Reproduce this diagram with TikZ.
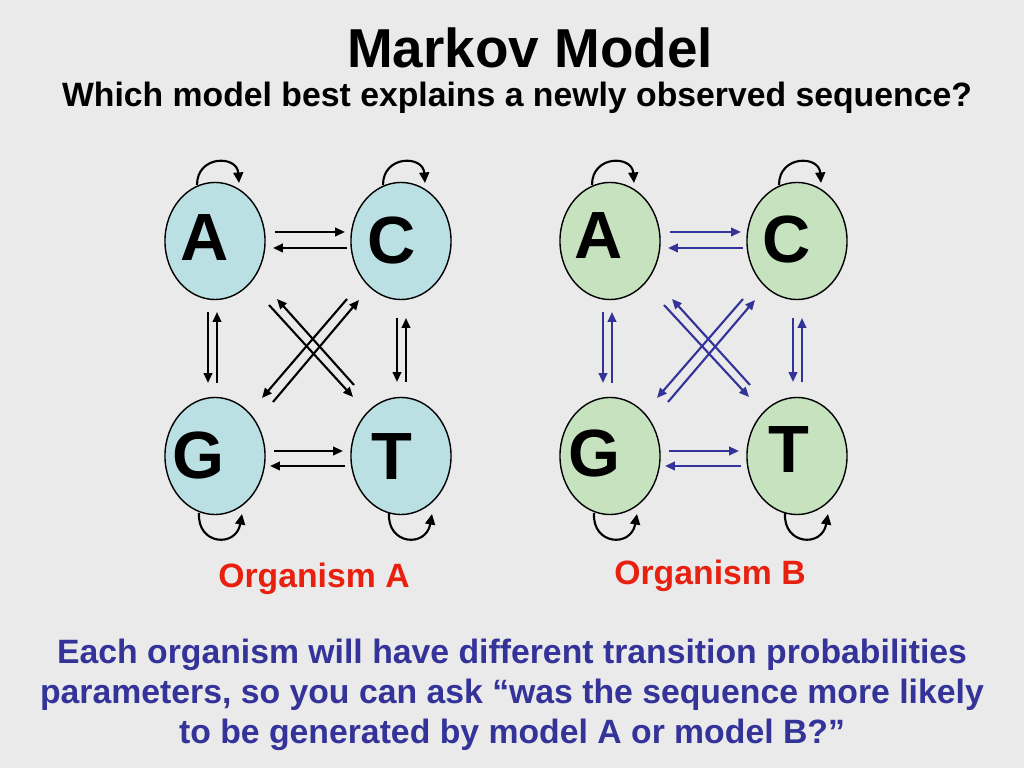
\documentclass[tikz,border=0pt]{standalone}
\usepackage{fontspec}
\setmainfont{Liberation Sans}
\usepackage{xcolor}
\usepackage{tikz}
\usetikzlibrary{shapes.geometric,arrows.meta,calc}
\definecolor{slidebg}{RGB}{234,234,234}
\definecolor{cyanfill}{RGB}{187,224,227}
\definecolor{greenfill}{RGB}{199,226,191}
\definecolor{navy}{RGB}{51,51,153}
\definecolor{orgred}{RGB}{232,32,16}
\tikzset{
  state/.style={
    shape = ellipse,
    draw,
    line width = 0.4pt,
    inner sep = 0pt,
    minimum width = 1cm,
    minimum height = 1.17cm
  },
  letter/.style={
    font = \fontsize{19}{20}\selectfont\bfseries,
    inner sep = 0pt
  },
  trans/.style={
    line width = 0.6pt,
    -{Triangle[length=2.8pt,width=2.4pt]}
  },
  selfloop/.style={
    line width = 0.6pt,
    -{Triangle[length=3pt,width=2.8pt]}
  },
  heading/.style={
    font = \fontsize{9.6}{11.4}\selectfont\bfseries,
    anchor = base
  }
}

\begin{document}
\begin{tikzpicture}[x=0.01cm,y=-0.01cm]
  \fill[slidebg] (0,0) rectangle (1024,768);
  \useasboundingbox (0,0) rectangle (1024,768);
  \node[heading,font=\fontsize{15.6}{18}\selectfont\bfseries] (title) at (530,68) {Markov Model};
  \node[heading] (subtitle) at (517,107) {Which model best explains a newly observed sequence?};
  % organism A
  \node[state,fill=cyanfill] (A1) at (215,241) {};
  \node[state,fill=cyanfill] (C1) at (401,241) {};
  \node[state,fill=cyanfill] (G1) at (215,456) {};
  \node[state,fill=cyanfill] (T1) at (401,456) {};
  \node[letter] (A1t) at (205,238) {A};
  \node[letter] (C1t) at (392,241) {C};
  \node[letter] (G1t) at (198,456) {G};
  \node[letter] (T1t) at (392,457) {T};
  % organism B
  \node[state,fill=greenfill] (A2) at (610,241) {};
  \node[state,fill=greenfill] (C2) at (797,241) {};
  \node[state,fill=greenfill] (G2) at (610,456) {};
  \node[state,fill=greenfill] (T2) at (797,456) {};
  \node[letter] (A2t) at (599,236) {A};
  \node[letter] (C2t) at (787,240) {C};
  \node[letter] (G2t) at (594,454) {G};
  \node[letter] (T2t) at (789,450) {T};
  \foreach \g/\col in {1/black,2/navy}{
    \draw[trans,\col] ($(A\g)+(60,-9)$) -- ($(C\g)+(-56,-9)$);
    \draw[trans,\col] ($(C\g)+(-54,7)$) -- ($(A\g)+(58,7)$);
    \draw[trans,\col] ($(G\g)+(59,-5)$) -- ($(T\g)+(-58,-5)$);
    \draw[trans,\col] ($(T\g)+(-56,10)$) -- ($(G\g)+(55,10)$);
    \draw[trans,\col] ($(A\g)+(-7,71)$) -- ($(G\g)+(-7,-73)$);
    \draw[trans,\col] ($(G\g)+(2,-73)$) -- ($(A\g)+(2,71)$);
    \draw[trans,\col] ($(C\g)+(-4,77)$) -- ($(T\g)+(-4,-74)$);
    \draw[trans,\col] ($(T\g)+(5,-74)$) -- ($(C\g)+(5,77)$);
    \draw[trans,\col] ($(A\g)+(54,64)$) -- ($(T\g)+(-48,-59)$);
    \draw[trans,\col] ($(T\g)+(-47,-71)$) -- ($(A\g)+(62,58)$);
    \draw[trans,\col] ($(C\g)+(-54,58)$) -- ($(G\g)+(47,-58)$);
    \draw[trans,\col] ($(G\g)+(58,-54)$) -- ($(C\g)+(-42,59)$);
    \foreach \n in {A,C}
      \draw[selfloop] ($(\n\g)+(-18,-56)$) .. controls +(0,-30) and +(-2,-28) .. ($(\n\g)+(24,-58)$);
    \draw[selfloop] ($(G\g)+(-16,57)$) .. controls +(-2,32) and +(-6,34) .. ($(G\g)+(27,58)$);
    \draw[selfloop] ($(T\g)+(-12,57)$) .. controls +(-2,32) and +(-6,34) .. ($(T\g)+(31,58)$);
  }
  \node[heading,text=orgred] (orgA) at (314,588) {Organism A};
  \node[heading,text=orgred] (orgB) at (710,585) {Organism B};
  \node[heading,text=navy,align=center] (note) at (512,744)
    {Each organism will have different transition probabilities\\
     parameters, so you can ask “was the sequence more likely\\
     to be generated by model A or model B?”};
\end{tikzpicture}
\end{document}
